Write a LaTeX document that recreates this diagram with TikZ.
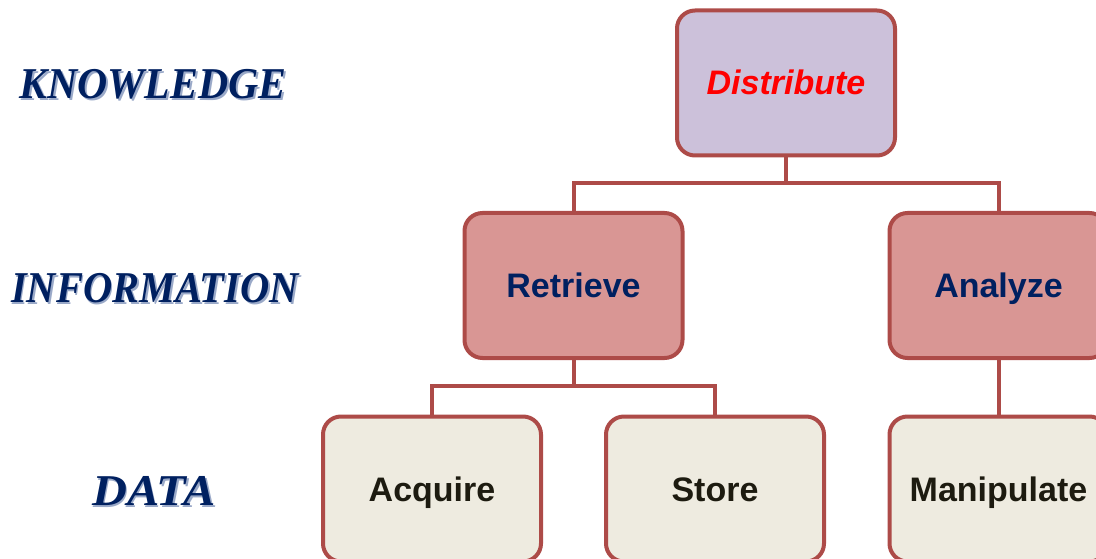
\documentclass[tikz,border=0pt]{standalone}
\usepackage{fontspec}
\setmainfont{Liberation Sans}
\newfontfamily\levelfont{Liberation Serif}
\definecolor{edge}{HTML}{AD4B48}
\definecolor{topfill}{HTML}{CCC1DA}
\definecolor{midfill}{HTML}{D99694}
\definecolor{lowfill}{HTML}{EEEBE0}
\definecolor{navy}{HTML}{002060}
\definecolor{darktext}{HTML}{1D1B10}
\definecolor{shade}{HTML}{9AA9C8}
\tikzset{
  box/.style={draw=edge, line width=4pt, rounded corners=18pt,
    minimum width=218pt, minimum height=145pt, inner sep=0pt,
    text height=24pt, text depth=0pt,
    font=\fontsize{34}{40}\selectfont\bfseries},
  topbox/.style={box, fill=topfill, text=red, font=\fontsize{34}{40}\selectfont\bfseries\itshape},
  midbox/.style={box, fill=midfill, text=navy},
  lowbox/.style={box, fill=lowfill, text=darktext},
  link/.style={draw=edge, line width=4pt},
  levelshade/.style={text=shade, font=\levelfont\fontsize{44}{50}\selectfont\bfseries\itshape},
  level/.style={text=navy, font=\levelfont\fontsize{44}{50}\selectfont\bfseries\itshape}
}
\begin{document}
\begin{tikzpicture}[x=1pt, y=-1pt]
  \useasboundingbox (0,0) rectangle (1096,559);
  \clip (0,0) rectangle (1096,559);

  % level labels on the left
  \foreach \name/\txt/\px/\py/\sx in {k/KNOWLEDGE/153/84/0.95, i/INFORMATION/155/288/0.92, d/DATA/154/491/1.1} {
    \node[levelshade, xscale=\sx] at (\px+1.8,\py+1.8) {\txt};
    \node[level, xscale=\sx] (lv\name) at (\px,\py) {\txt};
  }

  % process boxes
  \node[topbox] (distribute) at (786,83) {Distribute};
  \node[midbox] (retrieve) at (573.5,285.5) {Retrieve};
  \node[midbox] (analyze) at (998.5,285.5) {Analyze};
  \node[lowbox] (acquire) at (432,489) {Acquire};
  \node[lowbox] (store) at (715,489) {Store};
  \node[lowbox] (manipulate) at (998.5,489) {Manipulate};

  % tree connectors
  \draw[link] (distribute.south) |- (786,183) -| (retrieve.north);
  \draw[link] (786,183) -| (analyze.north);
  \draw[link] (retrieve.south) |- (573.5,386) -| (acquire.north);
  \draw[link] (573.5,386) -| (store.north);
  \draw[link] (analyze.south) -- (manipulate.north);
\end{tikzpicture}
\end{document}
